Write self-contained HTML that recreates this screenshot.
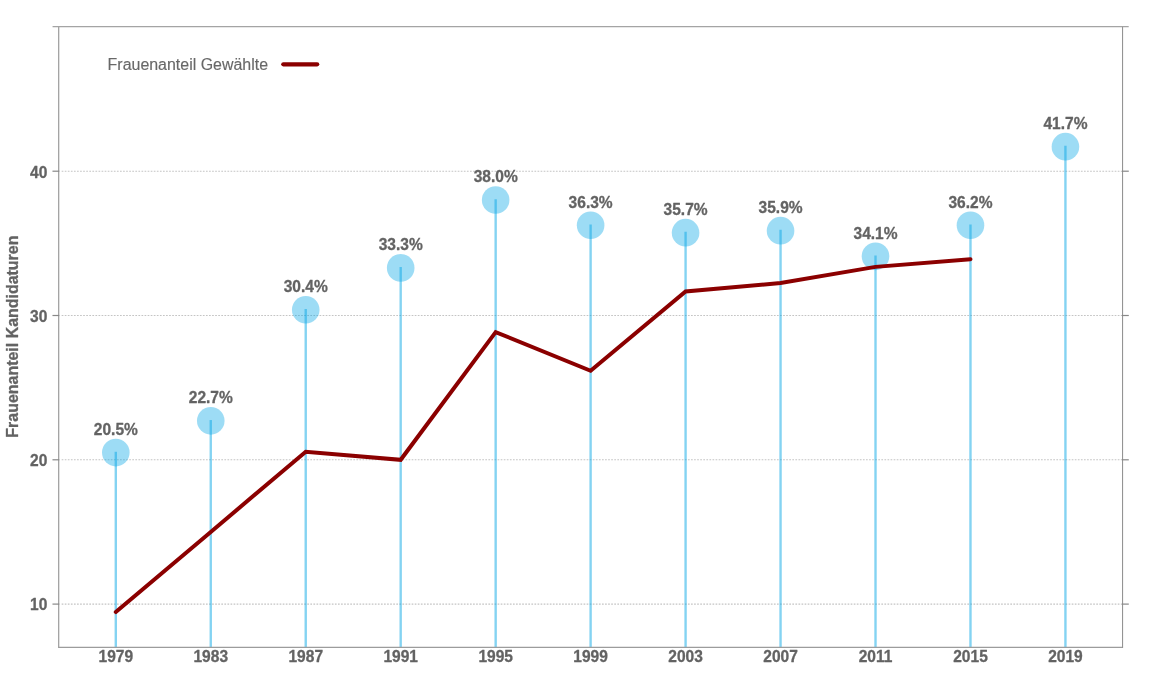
<!DOCTYPE html>
<html lang="de"><head><meta charset="utf-8"><title>Frauenanteil</title>
<style>
html,body{margin:0;padding:0;background:#fff;}
svg{display:block;font-family:"Liberation Sans",Arial,sans-serif;}
.b{font-weight:bold;font-size:16px;fill:#636363;stroke:#636363;stroke-width:0.3px;stroke-linejoin:round;}
.r{font-size:16px;fill:#686868;stroke:#686868;stroke-width:0.15px;}
</style></head><body>
<svg width="1152" height="686" viewBox="0 0 1152 686">
<rect width="1152" height="686" fill="#fff"/>
<g stroke="#c4c4c4" stroke-width="1.05" stroke-dasharray="1.7 1.37" fill="none">
<line x1="61.67" x2="1122.6" y1="604.10" y2="604.10"/>
<line x1="61.67" x2="1122.6" y1="459.80" y2="459.80"/>
<line x1="61.67" x2="1122.6" y1="315.50" y2="315.50"/>
<line x1="61.67" x2="1122.6" y1="171.20" y2="171.20"/>
</g>
<g stroke="#0aa8e6" stroke-opacity="0.5" stroke-width="2.4" fill="none">
<line x1="115.80" x2="115.80" y1="451.79" y2="647.33"/>
<line x1="210.76" x2="210.76" y1="420.04" y2="647.33"/>
<line x1="305.73" x2="305.73" y1="308.93" y2="647.33"/>
<line x1="400.69" x2="400.69" y1="267.08" y2="647.33"/>
<line x1="495.66" x2="495.66" y1="199.26" y2="647.33"/>
<line x1="590.62" x2="590.62" y1="224.51" y2="647.33"/>
<line x1="685.58" x2="685.58" y1="231.87" y2="647.33"/>
<line x1="780.55" x2="780.55" y1="229.85" y2="647.33"/>
<line x1="875.51" x2="875.51" y1="255.54" y2="647.33"/>
<line x1="970.48" x2="970.48" y1="224.51" y2="647.33"/>
<line x1="1065.44" x2="1065.44" y1="145.87" y2="647.33"/>
</g>
<g fill="#0aa8e6" fill-opacity="0.4">
<circle cx="115.80" cy="452.59" r="13.8"/>
<circle cx="210.76" cy="420.84" r="13.8"/>
<circle cx="305.73" cy="309.73" r="13.8"/>
<circle cx="400.69" cy="267.88" r="13.8"/>
<circle cx="495.66" cy="200.06" r="13.8"/>
<circle cx="590.62" cy="225.31" r="13.8"/>
<circle cx="685.58" cy="232.67" r="13.8"/>
<circle cx="780.55" cy="230.65" r="13.8"/>
<circle cx="875.51" cy="256.34" r="13.8"/>
<circle cx="970.48" cy="225.31" r="13.8"/>
<circle cx="1065.44" cy="146.67" r="13.8"/>
</g>
<polyline points="115.80,612.04 210.76,531.95 305.73,451.72 400.69,459.80 495.66,332.09 590.62,370.77 685.58,291.40 780.55,283.03 875.51,266.87 970.48,259.22" fill="none" stroke="#8b0000" stroke-width="4" stroke-linecap="round" stroke-linejoin="miter"/>
<g stroke="#a4a4a4" stroke-width="1.33" fill="none">
<line x1="52.57" x2="1128.70" y1="26.67" y2="26.67"/>
<line x1="58.67" x2="58.67" y1="26.67" y2="647.99"/>
<line x1="58.67" x2="1122.6" y1="647.33" y2="647.33" stroke="#9c9c9c"/>
<line x1="1122.55" x2="1122.55" y1="26.67" y2="647.99" stroke="#949494" stroke-width="1.1"/>
</g>
<g stroke="#888888" stroke-width="1.2" fill="none">
<line x1="52.47" x2="59.33" y1="604.10" y2="604.10"/>
<line x1="1121.94" x2="1128.80" y1="604.10" y2="604.10"/>
<line x1="52.47" x2="59.33" y1="459.80" y2="459.80"/>
<line x1="1121.94" x2="1128.80" y1="459.80" y2="459.80"/>
<line x1="52.47" x2="59.33" y1="315.50" y2="315.50"/>
<line x1="1121.94" x2="1128.80" y1="315.50" y2="315.50"/>
<line x1="52.47" x2="59.33" y1="171.20" y2="171.20"/>
<line x1="1121.94" x2="1128.80" y1="171.20" y2="171.20"/>
</g>
<text class="b" transform="translate(47.30 610.40) scale(0.972 1)" text-anchor="end">10</text>
<text class="b" transform="translate(47.30 466.10) scale(0.972 1)" text-anchor="end">20</text>
<text class="b" transform="translate(47.30 321.80) scale(0.972 1)" text-anchor="end">30</text>
<text class="b" transform="translate(47.30 177.50) scale(0.972 1)" text-anchor="end">40</text>
<text class="b" transform="translate(115.80 662.20) scale(0.972 1)" text-anchor="middle">1979</text>
<text class="b" transform="translate(210.76 662.20) scale(0.972 1)" text-anchor="middle">1983</text>
<text class="b" transform="translate(305.73 662.20) scale(0.972 1)" text-anchor="middle">1987</text>
<text class="b" transform="translate(400.69 662.20) scale(0.972 1)" text-anchor="middle">1991</text>
<text class="b" transform="translate(495.66 662.20) scale(0.972 1)" text-anchor="middle">1995</text>
<text class="b" transform="translate(590.62 662.20) scale(0.972 1)" text-anchor="middle">1999</text>
<text class="b" transform="translate(685.58 662.20) scale(0.972 1)" text-anchor="middle">2003</text>
<text class="b" transform="translate(780.55 662.20) scale(0.972 1)" text-anchor="middle">2007</text>
<text class="b" transform="translate(875.51 662.20) scale(0.972 1)" text-anchor="middle">2011</text>
<text class="b" transform="translate(970.48 662.20) scale(0.972 1)" text-anchor="middle">2015</text>
<text class="b" transform="translate(1065.44 662.20) scale(0.972 1)" text-anchor="middle">2019</text>
<text class="b" transform="translate(115.80 434.99) scale(0.972 1)" text-anchor="middle">20.5%</text>
<text class="b" transform="translate(210.76 403.24) scale(0.972 1)" text-anchor="middle">22.7%</text>
<text class="b" transform="translate(305.73 292.13) scale(0.972 1)" text-anchor="middle">30.4%</text>
<text class="b" transform="translate(400.69 250.28) scale(0.972 1)" text-anchor="middle">33.3%</text>
<text class="b" transform="translate(495.66 182.46) scale(0.972 1)" text-anchor="middle">38.0%</text>
<text class="b" transform="translate(590.62 207.71) scale(0.972 1)" text-anchor="middle">36.3%</text>
<text class="b" transform="translate(685.58 215.07) scale(0.972 1)" text-anchor="middle">35.7%</text>
<text class="b" transform="translate(780.55 213.05) scale(0.972 1)" text-anchor="middle">35.9%</text>
<text class="b" transform="translate(875.51 238.74) scale(0.972 1)" text-anchor="middle">34.1%</text>
<text class="b" transform="translate(970.48 207.71) scale(0.972 1)" text-anchor="middle">36.2%</text>
<text class="b" transform="translate(1065.44 129.07) scale(0.972 1)" text-anchor="middle">41.7%</text>
<text class="b" transform="translate(17.90 336.60) rotate(-90) scale(0.998 1)" text-anchor="middle">Frauenanteil Kandidaturen</text>
<text class="r" transform="translate(107.60 70.10) scale(0.997 1)" text-anchor="start">Frauenanteil Gewählte</text>
<line x1="283.3" x2="317.2" y1="64.35" y2="64.35" stroke="#8b0000" stroke-width="4.2" stroke-linecap="round"/>
</svg></body></html>
